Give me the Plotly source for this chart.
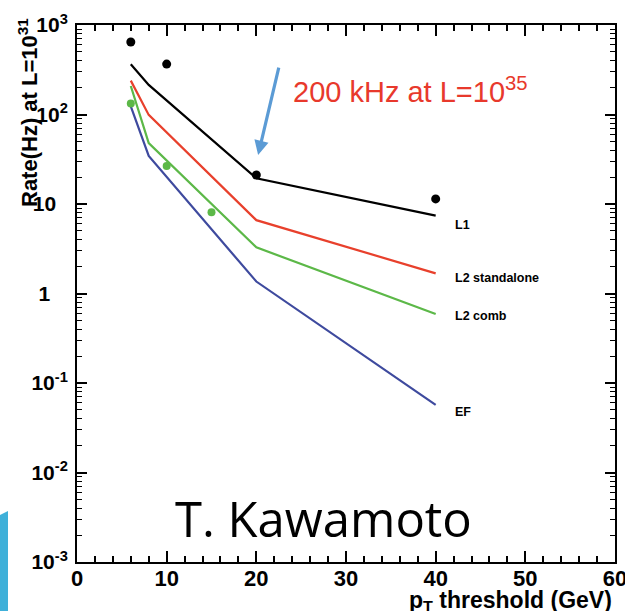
import plotly.graph_objects as go

# ---- data ----
line_x = [6, 8, 20, 40]
l1_rate = [364, 214, 19.4, 7.4]
l2sa_rate = [239, 99, 6.6, 1.68]
l2comb_rate = [208, 48, 3.28, 0.59]
ef_rate = [123, 34.4, 1.36, 0.057]

l1_pts_x = [6, 10, 20, 40]
l1_pts_y = [646, 366, 21.1, 11.4]
l2c_pts_x = [6, 10, 15]
l2c_pts_y = [133, 26.6, 8.07]

series_names = ["L1", "L2 standalone", "L2 comb", "EF"]
series_label_y = [0.765, 0.173, -0.251, -1.324]  # log10 positions of labels

x_ticks = [0, 10, 20, 30, 40, 50, 60]
y_tickvals = [1e3, 1e2, 1e1, 1, 1e-1, 1e-2, 1e-3]
y_ticktext = ["10<sup>3</sup>", "10<sup>2</sup>", "10\u00a0\u00a0", "1\u00a0\u00a0\u00a0",
              "10<sup>-1</sup>", "10<sup>-2</sup>", "10<sup>-3</sup>"]
y_minor = [m * 10.0 ** e for e in range(-3, 3) for m in range(2, 10)]

colors = ["#000000", "#e8402c", "#5cb848", "#3e4a9e"]
W, H = 625, 611
ML, MR, MT, MB = 77, 10, 25, 49

fig = go.Figure()
for ys, c, n in zip([l1_rate, l2sa_rate, l2comb_rate, ef_rate], colors, series_names):
    fig.add_trace(go.Scatter(x=line_x, y=ys, mode="lines", line=dict(color=c, width=2.2),
                             name=n, showlegend=False))
fig.add_trace(go.Scatter(x=l1_pts_x, y=l1_pts_y, mode="markers",
                         marker=dict(color="black", size=9), showlegend=False))
fig.add_trace(go.Scatter(x=l2c_pts_x, y=l2c_pts_y, mode="markers",
                         marker=dict(color="#5cb848", size=8), showlegend=False))

bold = dict(family="Liberation Sans, Arial, sans-serif", color="black", weight="bold")

ann = []
for n, ly in zip(series_names, series_label_y):
    ann.append(dict(x=41.9, y=ly, xref="x", yref="y", text=n, showarrow=False,
                    xanchor="left", yanchor="middle", font=dict(size=12.5, **bold)))

# arrow
ann.append(dict(x=20.2, y=1.547, xref="x", yref="y", text="", showarrow=True,
                ax=21, ay=-89, arrowcolor="#5b9bd5", arrowwidth=3.2, arrowhead=2,
                arrowsize=0.9))
ann.append(dict(x=23.9, y=2.274, xref="x", yref="y", text="200 kHz at L=10<sup>35</sup>",
                showarrow=False, xanchor="left", yanchor="middle",
                font=dict(family="Liberation Sans, Arial, sans-serif", size=29, color="#e8392c")))
ann.append(dict(x=27.5, y=-2.508, xref="x", yref="y", text="T. Kawamoto",
                showarrow=False, xanchor="center", yanchor="middle",
                font=dict(family="Open Sans, Noto Sans, sans-serif", size=49, color="black")))

pw = W - ML - MR
ph = H - MT - MB
def px2paper_x(p):
    return (p - ML) / pw
def py2paper_y(p):
    return (H - MB - p) / ph

# axis titles
ann.append(dict(x=px2paper_x(28), y=py2paper_y(113), xref="paper", yref="paper",
                text="Rate(Hz) at L=10<sup>31</sup>", textangle=-90, showarrow=False,
                xanchor="center", yanchor="middle", font=dict(size=22, **bold)))
ann.append(dict(x=px2paper_x(614), y=py2paper_y(601), xref="paper", yref="paper",
                text="p<sub>T</sub> threshold (GeV)", showarrow=False,
                xanchor="right", yanchor="middle", font=dict(size=23, **bold)))

shapes = [dict(type="path", xref="paper", yref="paper",
               path=f"M {px2paper_x(0)},{py2paper_y(515)} L {px2paper_x(8)},{py2paper_y(511)} "
                    f"L {px2paper_x(8)},{py2paper_y(611)} L {px2paper_x(0)},{py2paper_y(611)} Z",
               fillcolor="#3fb0d9", line=dict(width=0), layer="above")]

fig.update_layout(
    width=W, height=H, margin=dict(l=ML, r=MR, t=MT, b=MB, autoexpand=False),
    paper_bgcolor="white", plot_bgcolor="white",
    annotations=ann, shapes=shapes, showlegend=False,
    xaxis=dict(range=[0, 60], automargin=False, showgrid=False, zeroline=False, showline=True,
               linecolor="black", linewidth=2, mirror="ticks", ticks="inside", ticklen=11,
               tickwidth=1.5, tickcolor="black", tickvals=x_ticks, ticktext=[str(v) for v in x_ticks],
               tickfont=dict(size=22, **bold), ticklabelstandoff=-4, ticklabeloverflow="allow",
               minor=dict(ticks="inside", ticklen=6, tickwidth=1.5, tickcolor="black", dtick=2)),
    yaxis=dict(type="log", range=[-3, 3], automargin=False, showgrid=False, zeroline=False,
               showline=True, linecolor="black", linewidth=2, mirror="ticks", ticks="inside",
               ticklen=10, tickwidth=1.5, tickcolor="black", tickvals=y_tickvals,
               ticktext=y_ticktext, tickfont=dict(size=21, **bold), ticklabelstandoff=3,
               ticklabeloverflow="allow",
               minor=dict(ticks="inside", ticklen=5, tickwidth=1.2, tickcolor="black",
                          tickmode="array", tickvals=y_minor, showgrid=False)),
)
fig.write_html("out.html", config={"displayModeBar": False},
               post_script="document.body.style.margin='0';document.body.style.overflow='hidden';")
